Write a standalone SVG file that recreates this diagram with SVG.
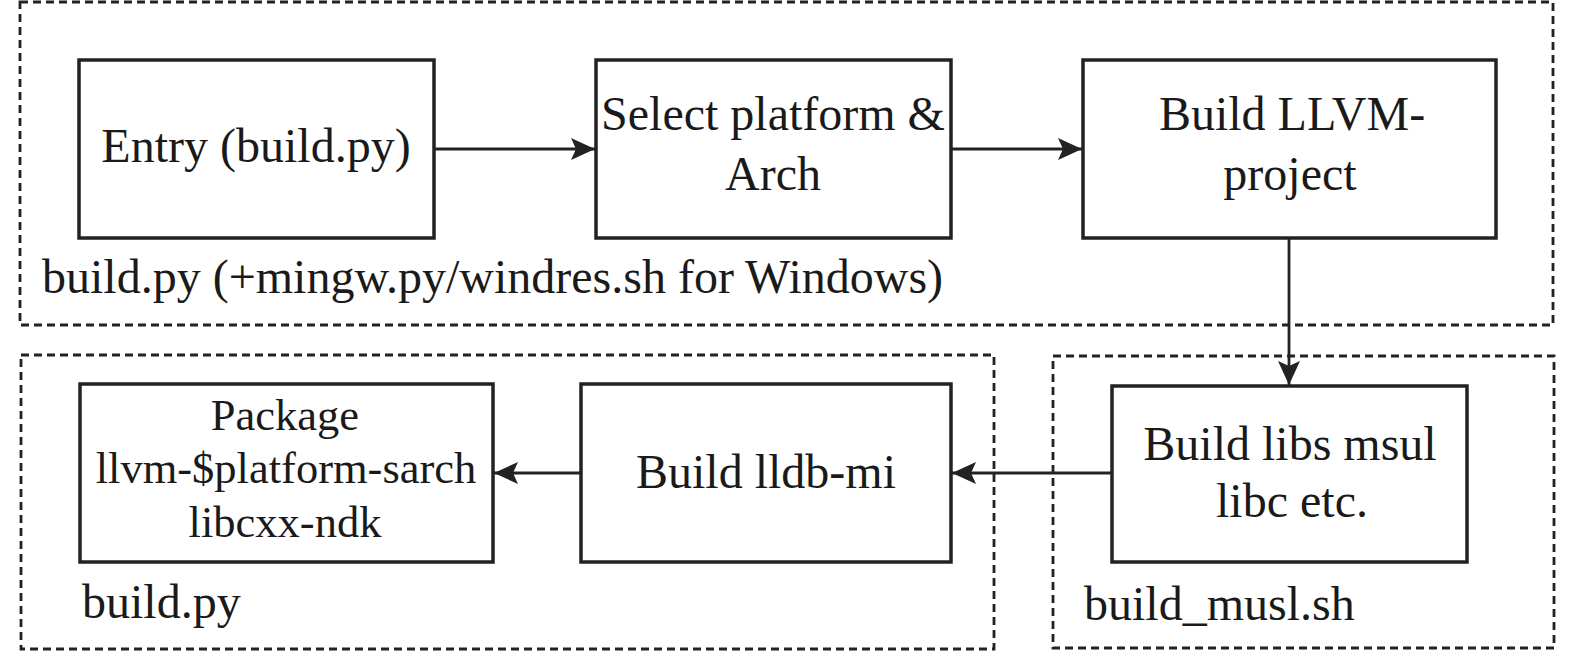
<svg xmlns="http://www.w3.org/2000/svg" width="1575" height="651" viewBox="0 0 1575 651">
<style>
.grp{fill:none;stroke:#222;stroke-width:2.8;stroke-dasharray:8 5}
.box{fill:#fff;stroke:#222;stroke-width:3.5}
.t{font-family:"Liberation Serif","Times New Roman",serif;font-size:48px;fill:#1a1a1a}
.m{text-anchor:middle}
.s{font-size:44.5px}
.edge{fill:none;stroke:#222;stroke-width:2.8}
</style>
<defs>
<marker id="ah" viewBox="0 0 24 22" refX="24" refY="11" markerWidth="24" markerHeight="22" markerUnits="userSpaceOnUse" orient="auto">
<path d="M0,0 L24,11 L0,22 L5,11 z" fill="#222"/>
</marker>
</defs>
<g id="group-top">
<rect class="grp" x="20" y="2" width="1533" height="323"/>
<text class="t" x="42" y="293">build.py (+mingw.py/windres.sh for Windows)</text>
</g>
<g id="group-bottom-left">
<rect class="grp" x="21" y="355" width="973" height="294"/>
<text class="t" x="82" y="618">build.py</text>
</g>
<g id="group-bottom-right">
<rect class="grp" x="1053" y="356" width="501" height="292"/>
<text class="t" x="1084" y="620">build_musl.sh</text>
</g>
<g id="node-entry">
<rect class="box" x="79" y="60" width="355" height="178"/>
<text class="t m" x="256" y="162">Entry (build.py)</text>
</g>
<g id="node-select">
<rect class="box" x="596" y="60" width="355" height="178"/>
<text class="t m" x="773" y="130">Select platform &amp;</text>
<text class="t m" x="773" y="190">Arch</text>
</g>
<g id="node-llvm">
<rect class="box" x="1083" y="60" width="413" height="178"/>
<text class="t m" x="1292" y="130">Build LLVM-</text>
<text class="t m" x="1290" y="190">project</text>
</g>
<g id="node-libs">
<rect class="box" x="1112" y="386" width="355" height="176"/>
<text class="t m" x="1290" y="460">Build libs msul</text>
<text class="t m" x="1292" y="517">libc etc.</text>
</g>
<g id="node-lldb">
<rect class="box" x="581" y="384" width="370" height="178"/>
<text class="t m" x="766" y="488">Build lldb-mi</text>
</g>
<g id="node-package">
<rect class="box" x="80" y="384" width="413" height="178"/>
<text class="t s m" x="285" y="430">Package</text>
<text class="t s m" x="286" y="483">llvm-$platform-sarch</text>
<text class="t s m" x="285" y="537">libcxx-ndk</text>
</g>
<g id="connectors">
<line class="edge" x1="434" y1="149" x2="595" y2="149" marker-end="url(#ah)"/>
<line class="edge" x1="951" y1="149" x2="1082" y2="149" marker-end="url(#ah)"/>
<line class="edge" x1="1289" y1="238" x2="1289" y2="385" marker-end="url(#ah)"/>
<line class="edge" x1="1112" y1="473" x2="952" y2="473" marker-end="url(#ah)"/>
<line class="edge" x1="581" y1="473" x2="494" y2="473" marker-end="url(#ah)"/>
</g>
</svg>
